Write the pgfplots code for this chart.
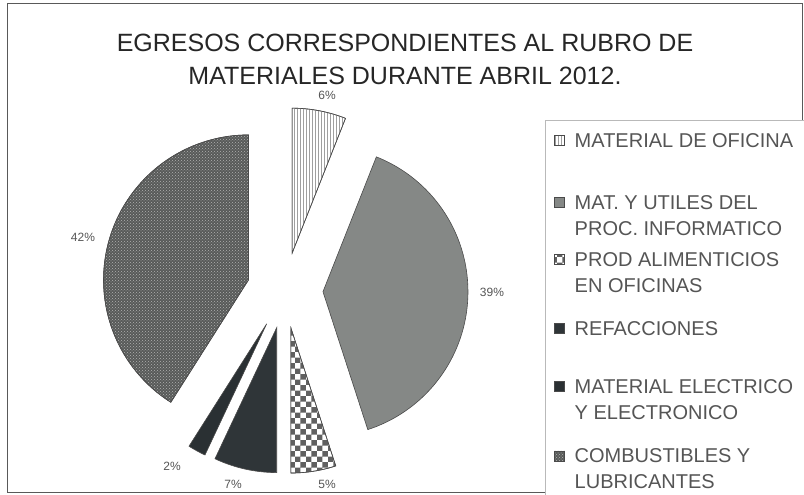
\documentclass[border=0pt]{standalone}
\usepackage{pgfplots}
\pgfplotsset{compat=1.18}
\usepackage{fontspec}
\setmainfont{Liberation Sans}
\usetikzlibrary{patterns}

\definecolor{cUtil}{HTML}{858886}
\definecolor{cRef}{HTML}{2F3538}
\definecolor{cEle}{HTML}{2A3033}
\definecolor{cComb}{HTML}{585A59}
\definecolor{cLine}{HTML}{4A4A4A}
\definecolor{cText}{HTML}{555555}
\definecolor{cTitle}{HTML}{262626}

% pie geometry (pixel units): centre, radius, explosion distance
\def\Cx{285}\def\Cy{204.5}\def\R{145}\def\D{38}

% \slice{cumulative start %}{value %}{style}
\newcommand\slice[3]{%
  \pgfmathsetmacro\aS{3.6*#1}%
  \pgfmathsetmacro\aE{3.6*(#1+#2)}%
  \pgfmathsetmacro\aM{(\aS+\aE)/2}%
  \pgfmathsetmacro\cx{\Cx+\D*sin(\aM)}%
  \pgfmathsetmacro\cy{\Cy+\D*cos(\aM)}%
  \edef\tmp{\noexpand\addplot[\unexpanded{#3}, domain=\aS:\aE, samples=90]
    ({\cx+\R*sin(x)}, {\cy+\R*cos(x)}) -- (axis cs:\cx,\cy) -- cycle;}%
  \tmp
}
% legend text: #1 height above first baseline (row pitch), #2 text
\newcommand\legtext[2]{\parbox[t]{235pt}{\fontsize{20}{26}\selectfont\rule{0pt}{#1}#2}}

\begin{document}
\begin{tikzpicture}
\begin{axis}[
  name=ax,
  width=804pt, height=495pt, scale only axis,
  xmin=0, xmax=804, ymin=0, ymax=495,
  hide axis, clip=false,
  legend style={at={(0.6779,0.7576)}, anchor=north west,
    draw=gray!55, fill=white, line width=0.6pt,
    inner xsep=9pt, inner ysep=12pt,
    row sep=0pt, column sep=10pt,
    text=cText,
    cells={anchor=base west},
    nodes={inner sep=0pt, text=cText}},
  legend image code/.code={\draw[#1, draw=cLine, line width=0.4pt] (0pt,2pt) rectangle (10pt,12pt);},
]
\slice{0}{6}{draw=cLine, line width=0.6pt, fill=white, postaction={pattern=vertical lines, pattern color=gray!75}}
\addlegendentry{\legtext{15pt}{MATERIAL DE OFICINA}}
\slice{6}{39}{draw=cLine, line width=0.6pt, fill=cUtil}
\addlegendentry{\legtext{60.6pt}{MAT. Y UTILES DEL\\PROC. INFORMATICO}}
\slice{45}{5}{draw=cLine, line width=0.6pt, fill=white, postaction={pattern=checkerboard, pattern color=gray!75!black}}
\addlegendentry{\legtext{55.6pt}{PROD ALIMENTICIOS\\EN OFICINAS}}
\slice{50}{7}{draw=cLine, line width=0.6pt, fill=cRef}
\addlegendentry{\legtext{67.6pt}{REFACCIONES}}
\slice{57}{2}{draw=cLine, line width=0.6pt, fill=cEle}
\addlegendentry{\legtext{56.6pt}{MATERIAL ELECTRICO\\Y ELECTRONICO}}
\slice{59}{41}{draw=cLine, line width=0.6pt, fill=cComb, postaction={pattern=crosshatch dots, pattern color=gray!60}}
\addlegendentry{\legtext{67.6pt}{COMBUSTIBLES Y\\LUBRICANTES}}
\addlegendimage{empty legend}
\addlegendentry{\rule{0pt}{45pt}}

% percentage labels
\node[font=\fontsize{12}{14}\selectfont, text=cText] at (axis cs:327,400) {6\%};
\node[font=\fontsize{12}{14}\selectfont, text=cText] at (axis cs:492,203) {39\%};
\node[font=\fontsize{12}{14}\selectfont, text=cText] at (axis cs:327,11) {5\%};
\node[font=\fontsize{12}{14}\selectfont, text=cText] at (axis cs:233,11) {7\%};
\node[font=\fontsize{12}{14}\selectfont, text=cText] at (axis cs:172,29) {2\%};
\node[font=\fontsize{12}{14}\selectfont, text=cText] at (axis cs:83,258) {42\%};

% title
\node[font=\fontsize{25}{33}\selectfont, text=cTitle, align=center] at (axis cs:405,436)
  {EGRESOS CORRESPONDIENTES AL RUBRO DE\\MATERIALES DURANTE ABRIL 2012.};

% chart area border
\draw[gray!70!black, line width=1pt] (axis cs:7,2) rectangle (axis cs:802,491);
\end{axis}
\pgfresetboundingbox
\path[use as bounding box] (ax.south west) rectangle (ax.north east);
\end{tikzpicture}
\end{document}
